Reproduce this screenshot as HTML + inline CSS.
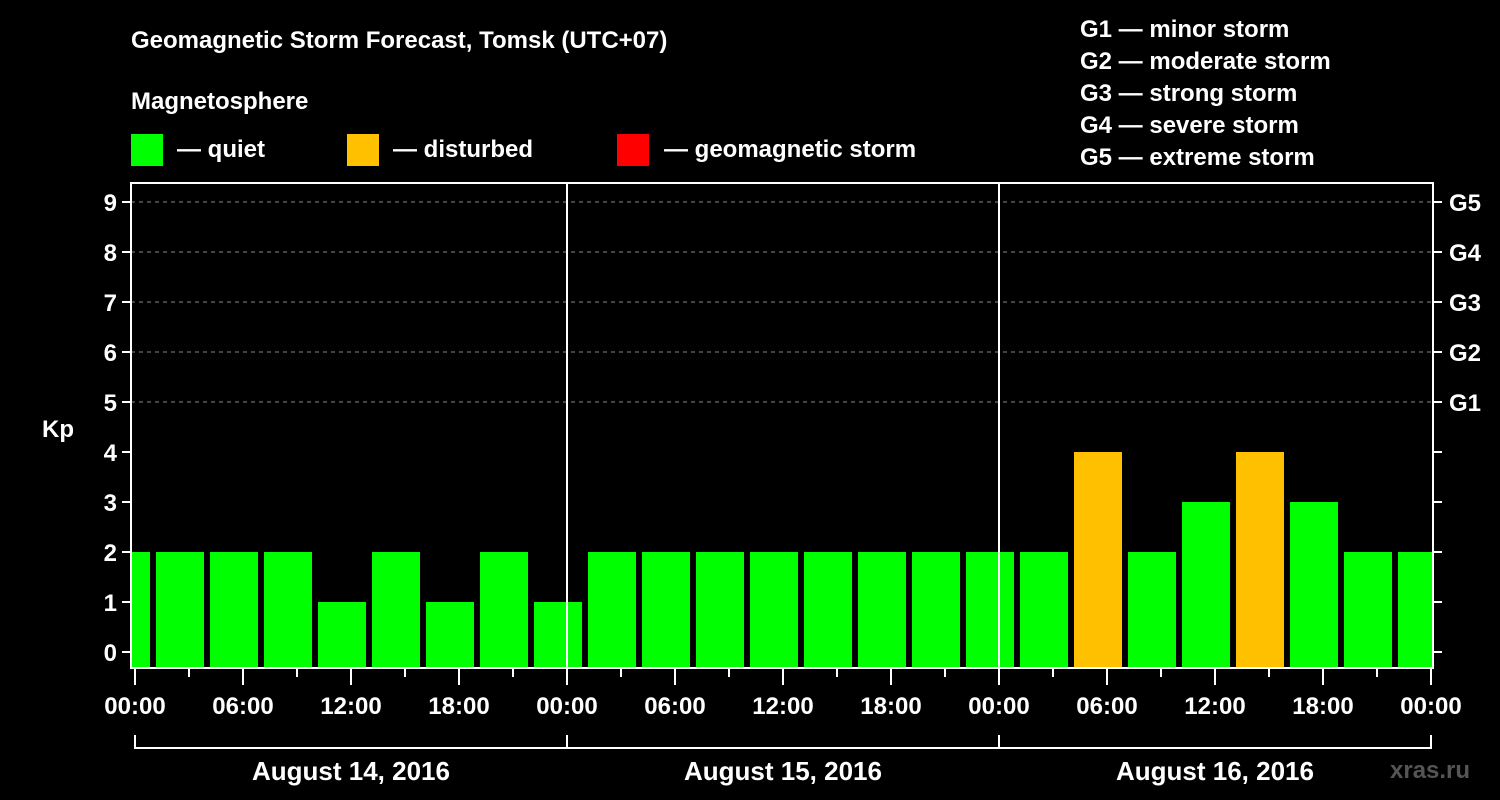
<!DOCTYPE html>
<html><head><meta charset="utf-8"><style>
html,body{margin:0;padding:0;background:#000;}
svg{display:block;font-family:"Liberation Sans",Arial,sans-serif;font-weight:bold;}
</style></head><body>
<svg id="chart" width="1500" height="800" viewBox="0 0 1500 800">
<text x="131" y="48" fill="#fff" font-size="24">Geomagnetic Storm Forecast, Tomsk (UTC+07)</text>
<text x="131" y="109" fill="#fff" font-size="24">Magnetosphere</text>
<g><rect x="131" y="134" width="32" height="32" fill="#00ff00"/><text x="177" y="157" fill="#fff" font-size="24">— quiet</text></g>
<g><rect x="347" y="134" width="32" height="32" fill="#ffc000"/><text x="393" y="157" fill="#fff" font-size="24">— disturbed</text></g>
<g><rect x="617" y="134" width="32" height="32" fill="#ff0000"/><text x="664" y="157" fill="#fff" font-size="24">— geomagnetic storm</text></g>
<g fill="#fff" font-size="24">
<text x="1080" y="37">G1 — minor storm</text>
<text x="1080" y="69">G2 — moderate storm</text>
<text x="1080" y="101">G3 — strong storm</text>
<text x="1080" y="133">G4 — severe storm</text>
<text x="1080" y="165">G5 — extreme storm</text>
</g>
<text x="42" y="437" fill="#fff" font-size="24">Kp</text>
<g id="grid"></g><g id="bars"></g><g id="axes"></g>
<text x="1390" y="778" fill="#555" font-size="24">xras.ru</text>
</svg>
<script>
const kpValues=[2, 2,2,2,1,2,1,2,1, 2,2,2,2,2,2,2,2, 2,4,2,3,4,3,2,2];
const firstBinHour=-2; // bins start 22:00 previous day, 3h each
const yTicks=[0,1,2,3,4,5,6,7,8,9];
const gLabels=["G1","G2","G3","G4","G5"];
const xTickLabels=["00:00","06:00","12:00","18:00","00:00","06:00","12:00","18:00","00:00","06:00","12:00","18:00","00:00"];
const dayLabels=["August 14, 2016","August 15, 2016","August 16, 2016"];
const NS="http://www.w3.org/2000/svg";
const L=131,R=1433,T=183,B=668;
const x=h=>135+h*18;
const y=v=>652-v*50;
function mk(tag,attrs,parent){const e=document.createElementNS(NS,tag);for(const k in attrs)e.setAttribute(k,attrs[k]);parent.appendChild(e);return e;}
const grid=document.getElementById('grid'),bars=document.getElementById('bars'),axes=document.getElementById('axes');
const defs=mk('defs',{},document.getElementById('chart'));
const cp=mk('clipPath',{id:'pc'},defs);mk('rect',{x:L+1,y:T,width:R-L-2,height:B-T},cp);
bars.setAttribute('clip-path','url(#pc)');
yTicks.forEach(v=>{
 if(v>=5){const g=mk('line',{x1:L,x2:R,y1:y(v),y2:y(v),stroke:'#888','stroke-width':1,'stroke-dasharray':'4,4'},grid);
 
 }
 mk('line',{x1:L-9,x2:L,y1:y(v),y2:y(v),stroke:'#fff','stroke-width':2},axes);
 mk('line',{x1:R,x2:R+9,y1:y(v),y2:y(v),stroke:'#fff','stroke-width':2},axes);
 const t=mk('text',{x:L-14,y:y(v)+9,fill:'#fff','font-size':24,'text-anchor':'end'},axes);t.textContent=v;
 
 
 if(v>=5){const g=mk('text',{x:R+16,y:y(v)+9,fill:'#fff','font-size':24},axes);g.textContent=gLabels[v-5];
 
 }
});
kpValues.forEach((v,i)=>{
 const h0=firstBinHour+i*3;
 const r=mk('rect',{x:x(h0)+3,y:y(v),width:48,height:B-1-y(v),fill:v>=5?'#ff0000':(v>=4?'#ffc000':'#00ff00')},bars);
 
 
});
const fr=mk('rect',{x:L,y:T,width:R-L,height:B-T,fill:'none',stroke:'#fff','stroke-width':2},axes);


[24,48].forEach(h=>mk('line',{x1:x(h),x2:x(h),y1:T,y2:B,stroke:'#fff','stroke-width':2},axes));
for(let h=0;h<=72;h+=3){const major=h%6===0;mk('line',{x1:x(h),x2:x(h),y1:B,y2:B+(major?17:9),stroke:'#fff','stroke-width':2},axes);}
xTickLabels.forEach((s,i)=>{const t=mk('text',{x:x(i*6),y:714,fill:'#fff','font-size':24,'text-anchor':'middle'},axes);t.textContent=s;
 
 });
mk('line',{x1:x(0),x2:x(72),y1:748,y2:748,stroke:'#fff','stroke-width':2},axes);
[0,24,48,72].forEach(h=>mk('line',{x1:x(h),x2:x(h),y1:735,y2:749,stroke:'#fff','stroke-width':2},axes));
dayLabels.forEach((s,i)=>{const t=mk('text',{x:x(i*24+12),y:780,fill:'#fff','font-size':26,'text-anchor':'middle'},axes);t.textContent=s;
 
 });
</script>
</body></html>
